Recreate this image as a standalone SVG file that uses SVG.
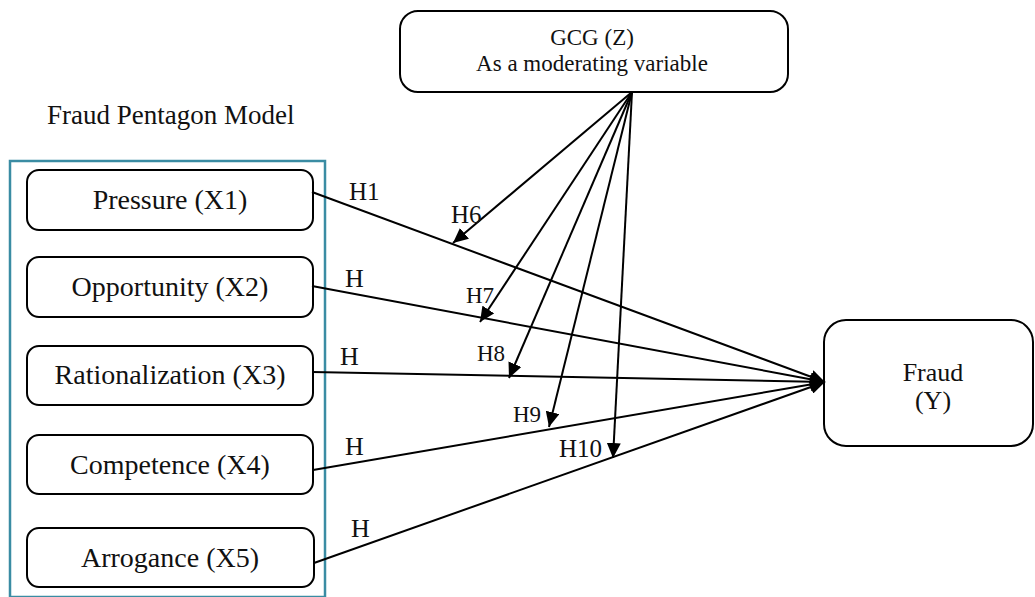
<svg xmlns="http://www.w3.org/2000/svg" width="1035" height="597" viewBox="0 0 1035 597">
<defs>
<marker id="arr" markerUnits="userSpaceOnUse" markerWidth="16" markerHeight="14" refX="15" refY="7" orient="auto">
<path d="M0,0 L15,7 L0,14 z" fill="#000"/>
</marker>
<style>
.box{fill:#fff;stroke:#000;stroke-width:2}
.t{font-family:"Liberation Serif","Times New Roman",serif;fill:#111;text-anchor:middle}
.lbl{font-family:"Liberation Serif","Times New Roman",serif;fill:#111}
.c{stroke:#000;stroke-width:2;fill:none;marker-end:url(#arr)}
</style>
</defs>
<rect width="1035" height="597" fill="#fff"/>

<text class="lbl" x="47" y="124" font-size="27">Fraud Pentagon Model</text>
<rect x="10" y="161" width="315" height="436" fill="none" stroke="#3a8ca3" stroke-width="2.5"/>

<g id="gcg">
<rect class="box" x="400" y="11" width="388" height="81" rx="18"/>
<text class="t" x="592" y="45" font-size="23">GCG (Z)</text>
<text class="t" x="592" y="71" font-size="23">As a moderating variable</text>
</g>

<g id="x1">
<rect class="box" x="27" y="170" width="286" height="60" rx="12"/>
<text class="t" x="170" y="209" font-size="28">Pressure (X1)</text>
</g>
<g id="x2">
<rect class="box" x="27" y="257" width="286" height="60" rx="12"/>
<text class="t" x="170" y="296" font-size="28">Opportunity (X2)</text>
</g>
<g id="x3">
<rect class="box" x="27" y="346" width="286" height="59" rx="12"/>
<text class="t" x="170" y="384" font-size="28">Rationalization (X3)</text>
</g>
<g id="x4">
<rect class="box" x="27" y="435" width="286" height="59" rx="12"/>
<text class="t" x="170" y="474" font-size="28">Competence (X4)</text>
</g>
<g id="x5">
<rect class="box" x="27" y="528" width="287" height="59" rx="12"/>
<text class="t" x="170" y="567" font-size="28">Arrogance (X5)</text>
</g>

<g id="y">
<rect class="box" x="824" y="320" width="209" height="126" rx="22"/>
<text class="t" x="933" y="381" font-size="26">Fraud</text>
<text class="t" x="933" y="409" font-size="26">(Y)</text>
</g>

<g id="connectors">
<line class="c" x1="312" y1="192" x2="825" y2="382"/>
<line class="c" x1="312" y1="286" x2="825" y2="382"/>
<line class="c" x1="312" y1="372" x2="825" y2="382"/>
<line class="c" x1="313" y1="470" x2="825" y2="382"/>
<line class="c" x1="314" y1="563" x2="825" y2="382"/>
<line class="c" x1="632" y1="92" x2="453" y2="243"/>
<line class="c" x1="632" y1="92" x2="480" y2="322"/>
<line class="c" x1="632" y1="92" x2="509" y2="378"/>
<line class="c" x1="632" y1="92" x2="549" y2="427"/>
<line class="c" x1="632" y1="92" x2="613" y2="458"/>
</g>

<g id="labels">
<text class="lbl" x="349" y="200" font-size="25">H1</text>
<text class="lbl" x="451" y="223" font-size="25">H6</text>
<text class="lbl" x="345" y="287" font-size="26">H</text>
<text class="lbl" x="466" y="303" font-size="23">H7</text>
<text class="lbl" x="340" y="365" font-size="26">H</text>
<text class="lbl" x="477" y="361" font-size="23">H8</text>
<text class="lbl" x="513" y="422" font-size="23">H9</text>
<text class="lbl" x="345" y="455" font-size="26">H</text>
<text class="lbl" x="559" y="457" font-size="25">H10</text>
<text class="lbl" x="351" y="537" font-size="26">H</text>
</g>
</svg>
